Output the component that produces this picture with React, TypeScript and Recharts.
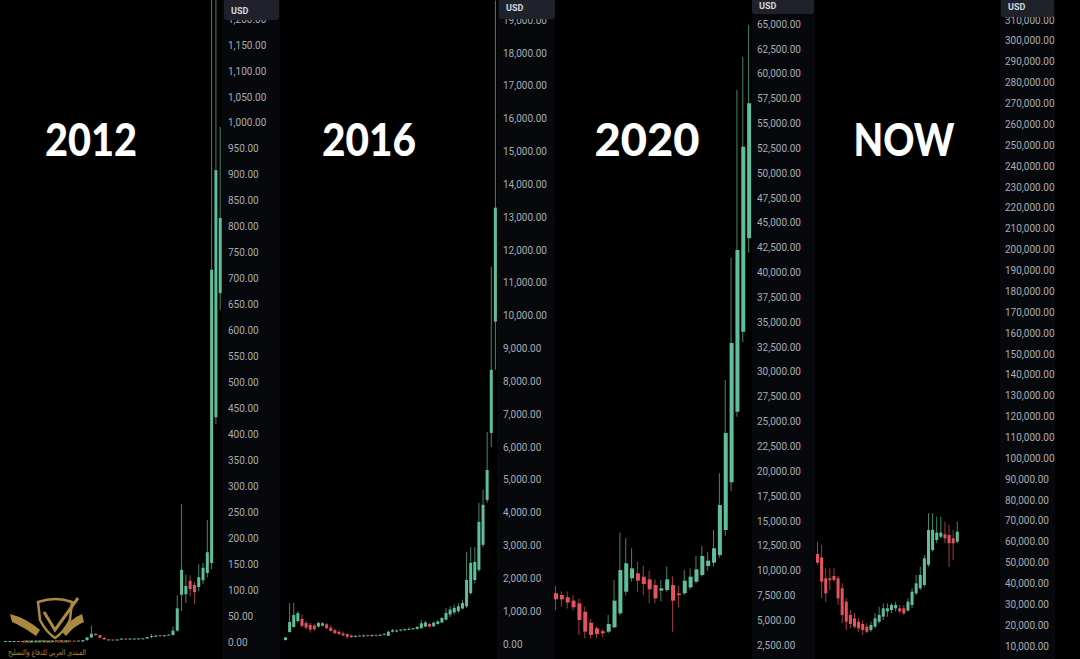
import { Bar, Cell, ComposedChart, XAxis, YAxis } from "recharts";

const W = 1080;
const H = 659;
const UP = "#5fbf9b";
const DOWN = "#e5535f";
const TICK = "#a9acb3";
const GOLD = "#c9a24d";

// 2012 cycle, monthly candles
const open2012 = [0.05, 0.06, 0.07, 0.19, 0.07, 0.06, 0.19, 0.2, 0.28, 0.3, 0.3, 0.3, 0.9, 0.86, 0.8, 1.1, 0.9, 0.86, 0.9, 3.5, 8.7, 16, 13.4, 8.2, 5.1, 3.3, 3, 4.7, 5.5, 4.9, 4.9, 5, 5.2, 6.7, 9.4, 10.2, 12.4, 11.2, 12.6, 13.5, 22, 91, 92, 118, 110, 106, 119, 133, 152, 433, 672];
const high2012 = [0.08, 0.07, 0.2, 0.2, 0.08, 0.2, 0.5, 0.3, 0.3, 0.4, 0.32, 1.1, 1, 0.95, 1.2, 1.2, 1, 1, 3.8, 9.5, 32, 17, 13.5, 8.6, 5.2, 3.5, 4.7, 7.4, 6.5, 5.3, 5.3, 5.3, 6.9, 9.7, 15.4, 12.9, 12.5, 12.9, 14, 30, 90, 266, 130, 128, 115, 150, 152, 235, 1240, 1240, 992];
const low2012 = [0.05, 0.05, 0.06, 0.06, 0.06, 0.06, 0.1, 0.2, 0.2, 0.25, 0.28, 0.3, 0.8, 0.75, 0.7, 0.9, 0.8, 0.8, 0.9, 3, 8, 12, 7, 4.6, 2.2, 2, 2.8, 4.7, 4.3, 4.5, 4.7, 4.9, 5.2, 6.6, 7.1, 9.9, 9.9, 10.4, 12.5, 12.5, 20, 60, 75, 88, 73, 98, 112, 125, 140, 420, 640];
const close2012 = [0.06, 0.07, 0.19, 0.07, 0.06, 0.19, 0.2, 0.28, 0.3, 0.3, 0.3, 0.9, 0.86, 0.8, 1.1, 0.9, 0.86, 0.9, 3.5, 8.7, 16, 13.4, 8.2, 5.1, 3.3, 3, 4.7, 5.5, 4.9, 4.9, 5, 5.2, 6.7, 9.4, 10.2, 12.4, 11.2, 12.6, 13.5, 22, 65, 139, 108, 102, 96, 125, 143, 173, 717, 909, 817];

// 2016 cycle
const open2016 = [120, 365, 518, 700, 760, 640, 580, 560, 530, 560, 600, 500, 420, 370, 320, 300, 260, 220, 240, 230, 260, 240, 270, 250, 280, 250, 375, 380, 410, 420, 430, 450, 460, 480, 530, 610, 540, 610, 655, 740, 900, 960, 1000, 1080, 1150, 1550, 1950, 2260, 3020, 4390, 6430, 9820];
const high2016 = [210, 1250, 1250, 1000, 900, 700, 640, 620, 680, 660, 640, 560, 480, 420, 380, 330, 290, 260, 270, 290, 280, 300, 290, 300, 320, 400, 460, 450, 440, 470, 500, 480, 540, 740, 700, 650, 690, 720, 820, 1100, 1150, 1200, 1250, 1350, 2800, 2950, 2950, 4300, 4700, 6460, 11490, 19600];
const low2016 = [110, 340, 500, 650, 500, 450, 350, 400, 500, 530, 460, 380, 300, 280, 240, 160, 190, 200, 210, 220, 225, 230, 230, 240, 260, 240, 350, 360, 390, 400, 420, 430, 440, 470, 520, 500, 520, 590, 640, 720, 820, 900, 950, 1050, 1100, 1500, 1850, 2200, 2950, 4300, 6000, 8350];
const close2016 = [200, 670, 884, 940, 550, 500, 440, 450, 640, 630, 480, 400, 330, 300, 260, 220, 210, 240, 230, 260, 240, 270, 250, 280, 300, 375, 420, 410, 420, 430, 450, 460, 520, 630, 655, 530, 650, 690, 790, 945, 1050, 1100, 1150, 1250, 1950, 2470, 2500, 3720, 4240, 5300, 8350, 13290];

// 2020 cycle
const open2020 = [7720, 7550, 7320, 6980, 6710, 5870, 4760, 4190, 3900, 3860, 4300, 5700, 7880, 9230, 9730, 9390, 9120, 8550, 7990, 8050, 8550, 7700, 7720, 8320, 8890, 9560, 10470, 10800, 11570, 14090, 18900, 26000, 34050, 43450];
const high2020 = [8450, 7900, 7900, 7500, 7200, 6400, 5100, 4400, 4100, 5540, 9060, 13820, 13260, 12250, 10900, 10500, 10000, 9100, 9060, 10410, 9400, 8450, 10070, 10230, 11480, 12480, 11900, 14100, 19800, 29190, 41500, 58370, 61720, 64900];
const low2020 = [6040, 6380, 6200, 6000, 3520, 3190, 3200, 3200, 3300, 3700, 4200, 5500, 7500, 8900, 7880, 7550, 6710, 6710, 6900, 7880, 3860, 6300, 7550, 8100, 8700, 9400, 10000, 10400, 11300, 13500, 18000, 25500, 33000, 42000];
const close2020 = [7110, 7110, 6790, 6310, 5030, 3860, 3520, 3620, 3700, 4630, 6980, 10060, 10740, 10230, 8990, 8660, 8120, 7210, 8220, 9120, 6980, 7550, 8990, 9390, 10130, 11470, 11000, 12250, 16600, 23850, 32900, 42270, 52670, 57030];

// now
const openNow = [54150, 52550, 42490, 42490, 43600, 42490, 37690, 31310, 24920, 23320, 21720, 20600, 19330, 17730, 19330, 21720, 24120, 26670, 27310, 28110, 28110, 28110, 26990, 29710, 35300, 37690, 39290, 49000, 56060, 60850, 62450, 63570, 63250, 61650, 60050];
const highNow = [60050, 58460, 47280, 47280, 47280, 43600, 40090, 32900, 27310, 25720, 23320, 22520, 20920, 21720, 25720, 28910, 30510, 30510, 30510, 31310, 29710, 29710, 32900, 37690, 44080, 48080, 53670, 73630, 73630, 72030, 72030, 69640, 68040, 65650, 69640];
const lowNow = [48870, 32900, 31310, 36900, 41000, 29710, 20920, 17730, 18530, 18530, 16930, 15330, 16130, 16930, 18530, 20920, 22520, 24120, 25720, 26670, 25720, 24920, 26670, 28110, 34500, 36900, 38490, 48080, 55260, 59260, 61650, 59260, 48080, 51270, 59260];
const closeNow = [49990, 40890, 35300, 41690, 41690, 32900, 24920, 21720, 20600, 19330, 18530, 17730, 16930, 20120, 23320, 24920, 28110, 28110, 29710, 29710, 26670, 25720, 31310, 36100, 40090, 44080, 52070, 65650, 65650, 64370, 64370, 61650, 59260, 59260, 64850];

const ticks2012 = [0, 50, 100, 150, 200, 250, 300, 350, 400, 450, 500, 550, 600, 650, 700, 750, 800, 850, 900, 950, 1000, 1050, 1100, 1150, 1200];
const ticks2016 = [0, 1000, 2000, 3000, 4000, 5000, 6000, 7000, 8000, 9000, 10000, 11000, 12000, 13000, 14000, 15000, 16000, 17000, 18000, 19000];
const ticks2020 = [2500, 5000, 7500, 10000, 12500, 15000, 17500, 20000, 22500, 25000, 27500, 30000, 32500, 35000, 37500, 40000, 42500, 45000, 47500, 50000, 52500, 55000, 57500, 60000, 62500, 65000];
const ticksNow = [10000, 20000, 30000, 40000, 50000, 60000, 70000, 80000, 90000, 100000, 110000, 120000, 130000, 140000, 150000, 160000, 170000, 180000, 190000, 200000, 210000, 220000, 230000, 240000, 250000, 260000, 270000, 280000, 290000, 300000, 310000];

type Row = { i: number; o: number; h: number; l: number; c: number };

const toRows = (o: number[], h: number[], l: number[], c: number[]): Row[] =>
  o.map((v, i) => ({ i, o: v, h: h[i], l: l[i], c: c[i] }));

const fmt = (v: number) =>
  v.toLocaleString("en-US", { minimumFractionDigits: 2, maximumFractionDigits: 2 });

interface PanelProps {
  data: Row[];
  slots: number;
  left: number;
  width: number;
  padLeft: number;
  padRight: number;
  axisWidth: number;
  domain: [number, number];
  ticks: number[];
  body: number;
  labelGap: number;
}

function CandlePanel(p: PanelProps) {
  const xDomain = [-0.5, p.slots - 0.5];
  return (
    <div style={{ position: "absolute", left: p.left, top: 0 }}>
      <ComposedChart
        width={p.width}
        height={H}
        data={p.data}
        margin={{ top: 0, right: p.padRight, bottom: 0, left: p.padLeft }}
      >
        <XAxis xAxisId="wick" dataKey="i" type="number" domain={xDomain} hide />
        <XAxis xAxisId="body" dataKey="i" type="number" domain={xDomain} hide />
        <YAxis
          orientation="right"
          type="number"
          width={p.axisWidth}
          domain={p.domain}
          allowDataOverflow
          ticks={p.ticks}
          interval={0}
          axisLine={false}
          tickLine={false}
          tickSize={0}
          tickMargin={p.labelGap}
          tick={{ fill: TICK, fontSize: 10, fontFamily: "Roboto, sans-serif" }}
          tickFormatter={fmt}
        />
        <Bar
          xAxisId="wick"
          dataKey={(d: Row) => [d.l, d.h]}
          barSize={1}
          isAnimationActive={false}
        >
          {p.data.map((d) => (
            <Cell key={d.i} fill={d.c >= d.o ? UP : DOWN} fillOpacity={0.7} />
          ))}
        </Bar>
        <Bar
          xAxisId="body"
          dataKey={(d: Row) => [Math.min(d.o, d.c), Math.max(d.o, d.c)]}
          barSize={p.body}
          minPointSize={1}
          isAnimationActive={false}
        >
          {p.data.map((d) => (
            <Cell key={d.i} fill={d.c >= d.o ? UP : DOWN} />
          ))}
        </Bar>
      </ComposedChart>
    </div>
  );
}

// axis strips + USD badges
const strips = [
  { x: 222, w: 58 },
  { x: 497, w: 58 },
  { x: 752, w: 63 },
  { x: 1000, w: 55 },
];
const badges = [
  { x: 224, w: 55, bottom: 20, base: 13.5 },
  { x: 499, w: 56, bottom: 19, base: 10.5 },
  { x: 752, w: 62, bottom: 14, base: 9 },
  { x: 1001, w: 53, bottom: 17, base: 10 },
];
const titles = [
  { text: "2012", x: 91, w: 92 },
  { text: "2016", x: 369, w: 94 },
  { text: "2020", x: 647, w: 105 },
  { text: "NOW", x: 904, w: 101 },
];

export default function App() {
  return (
    <div
      style={{
        position: "fixed",
        left: 0,
        top: 0,
        width: W,
        height: H,
        background: "#000",
        overflow: "hidden",
      }}
    >
      {strips.map((s) => (
        <div
          key={s.x}
          style={{ position: "absolute", left: s.x, top: 0, width: s.w, height: H, background: "#07080b" }}
        />
      ))}

      <CandlePanel
        data={toRows(open2012, high2012, low2012, close2012)}
        slots={51}
        left={0}
        width={280}
        padLeft={3}
        padRight={0}
        axisWidth={58}
        domain={[-32.7, 1236.8]}
        ticks={ticks2012}
        body={3}
        labelGap={6}
      />
      <CandlePanel
        data={toRows(open2016, high2016, low2016, close2016)}
        slots={52}
        left={280}
        width={275}
        padLeft={3}
        padRight={0}
        axisWidth={58}
        domain={[-457, 19616]}
        ticks={ticks2016}
        body={3}
        labelGap={6}
      />
      <CandlePanel
        data={toRows(open2020, high2020, low2020, close2020)}
        slots={34}
        left={550}
        width={265}
        padLeft={3}
        padRight={0}
        axisWidth={63}
        domain={[1107, 67432]}
        ticks={ticks2020}
        body={4}
        labelGap={5}
      />
      <CandlePanel
        data={toRows(openNow, highNow, lowNow, closeNow)}
        slots={45}
        left={815}
        width={265}
        padLeft={0}
        padRight={25}
        axisWidth={55}
        domain={[3833, 319598]}
        ticks={ticksNow}
        body={3}
        labelGap={5}
      />

      <svg width={W} height={H} style={{ position: "absolute", left: 0, top: 0, pointerEvents: "none" }}>
        {badges.map((b) => (
          <g key={b.x}>
            <rect x={b.x} y={-6} width={b.w} height={b.bottom + 6} rx={3} fill="#1f222b" />
            <text
              x={b.x + 7}
              y={b.base}
              fill="#d6d8de"
              fontSize={9}
              fontWeight={700}
              fontFamily="Roboto, sans-serif"
            >
              USD
            </text>
          </g>
        ))}
        {titles.map((t) => (
          <text
            key={t.text}
            x={t.x}
            y={156}
            textAnchor="middle"
            fill="#fff"
            fontSize={46}
            fontWeight={900}
            fontFamily="Lato, sans-serif"
            textLength={t.w}
            lengthAdjust="spacingAndGlyphs"
          >
            {t.text}
          </text>
        ))}

        {/* watermark */}
        <g opacity={0.85}>
          <path d="M38 602 Q56 596 72 602 L70 620 Q64 632 55 638 Q46 632 40 620 Z" fill="none" stroke={GOLD} strokeWidth={2.5} />
          <path d="M44 612 L55 630 L78 598" fill="none" stroke={GOLD} strokeWidth={3} />
          <path d="M10 614 Q26 618 40 630 L36 636 Q22 626 12 622 Z" fill={GOLD} />
          <path d="M82 614 Q68 620 62 632 L66 636 Q74 626 84 622 Z" fill={GOLD} />
          <text x={46} y={643} fontSize={4} fill={GOLD} fontFamily="DejaVu Sans" textAnchor="middle">
            ARAB DEFENSE FORUM
          </text>
          <text
            x={47}
            y={655}
            fontSize={8}
            fill={GOLD}
            fontFamily="DejaVu Sans"
            textAnchor="middle"
            textLength={78}
            lengthAdjust="spacingAndGlyphs"
          >
            المنتدى العربي للدفاع والتسليح
          </text>
        </g>
      </svg>
    </div>
  );
}
